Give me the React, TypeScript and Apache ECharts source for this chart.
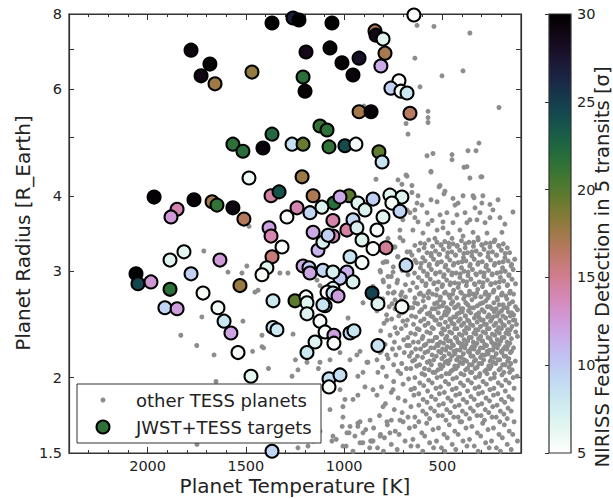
import React, { useEffect, useRef } from "react";
import * as echarts from "echarts";

// Axis ranges and ticks
const TEMP_MIN = 100;
const TEMP_MAX = 2400;
const RADIUS_MIN = 1.5;
const RADIUS_MAX = 8;
const SIGMA_MIN = 5;
const SIGMA_MAX = 30;

const temperatureMajorTicks = [500, 1000, 1500, 2000];
const radiusLabelValues = [1.5, 2, 3, 4, 6, 8];
const radiusTickValues = [1.5, 2, 3, 4, 5, 6, 7, 8];
const sigmaTicks = [5, 10, 15, 20, 25, 30];

// JWST+TESS targets: [planet temperature K, planet radius R_Earth, NIRISS detection sigma]
const jwstTargets: [number, number, number][] = [
  [1367, 7.73, 29.8], [1260, 7.88, 26.8], [1230, 7.82, 30], [1779, 6.97, 29.2], [1683, 6.61, 29.5],
  [1728, 6.32, 29], [1657, 6.13, 17.6], [1469, 6.41, 17.9], [1194, 6.92, 28.5], [1209, 6.29, 21.8],
  [1199, 5.96, 29.6], [1566, 4.87, 21.6], [1515, 4.74, 21.9], [1367, 5.06, 22.3], [1413, 4.8, 29.4],
  [1265, 4.87, 8.6], [1209, 4.87, 19.4], [1484, 4.28, 5.8], [1214, 4.3, 17.7], [1967, 3.98, 29.8],
  [1764, 3.94, 29.6], [1672, 3.91, 17.3], [1647, 3.86, 21.4], [1566, 3.82, 29.2], [1510, 3.66, 16.8],
  [1850, 3.8, 14.2], [1881, 3.69, 12.6], [1372, 4.0, 14.6], [1331, 4.06, 23.8], [1240, 3.82, 14.1],
  [1291, 3.69, 5.4], [1174, 3.75, 9.4], [1382, 3.54, 12.2], [1372, 3.43, 14.0], [645, 7.97, 5.2],
  [1062, 7.73, 29.7], [843, 7.5, 16.9], [838, 7.38, 28.8], [802, 7.27, 6.6], [792, 6.89, 17.2],
  [813, 6.56, 11.6], [1072, 7.03, 29.9], [924, 6.76, 28.0], [1011, 6.64, 29.6], [955, 6.34, 29.3],
  [721, 6.2, 5.3], [762, 6.03, 9.6], [711, 5.96, 5.6], [680, 5.92, 8.2], [924, 5.51, 17.4],
  [863, 5.51, 29.5], [665, 5.48, 16.6], [1123, 5.22, 21.2], [1087, 5.14, 21.6], [1077, 4.82, 21.4],
  [996, 4.84, 24.2], [940, 4.87, 5.6], [823, 4.73, 19.6], [807, 4.55, 8.4], [1158, 4.0, 17.0],
  [975, 4.0, 19.8], [1052, 3.89, 21.8], [853, 3.95, 9.8], [767, 4.01, 6.4], [706, 3.98, 6.8],
  [1113, 3.83, 6.9], [757, 3.89, 5.5], [716, 3.77, 9.3], [1021, 3.98, 11.8], [930, 3.89, 6.7],
  [894, 3.79, 7.0], [802, 3.69, 6.5], [1057, 3.64, 14.3], [986, 3.51, 14.5], [1158, 3.48, 11.9],
  [1057, 3.43, 13.8], [955, 3.65, 9.2], [935, 3.54, 7.2], [833, 3.51, 5.4], [909, 3.38, 6.8],
  [853, 3.27, 5.3], [787, 3.28, 15.0], [970, 3.17, 8.3], [909, 3.1, 5.5], [685, 3.07, 9.0],
  [986, 2.99, 11.4], [955, 2.88, 7.0], [858, 2.76, 24.8], [1021, 2.92, 10.0], [1057, 2.81, 6.9],
  [1316, 3.29, 5.3], [1133, 3.25, 11.2], [1108, 3.35, 7.1], [1082, 3.44, 9.7], [1367, 3.17, 15.8],
  [1393, 3.04, 6.8], [1418, 2.96, 5.4], [1209, 3.06, 11.7], [1179, 3.04, 9.9], [1108, 3.01, 9.3],
  [1057, 2.99, 7.3], [1174, 2.98, 12.0], [1362, 2.68, 8.1], [1250, 2.68, 19.7], [1194, 2.72, 5.6],
  [1087, 2.77, 5.4], [1530, 2.84, 17.8], [1189, 2.66, 6.6], [1189, 2.55, 6.9], [1097, 2.63, 7.2],
  [1057, 2.76, 8.4], [1031, 2.73, 12.4], [1123, 2.48, 5.5], [828, 2.65, 6.7], [706, 2.62, 5.5],
  [1362, 2.42, 8.3], [1342, 2.4, 8.0], [1097, 2.38, 5.3], [1052, 2.35, 12.3], [1052, 2.28, 5.4],
  [1148, 2.29, 6.7], [1189, 2.2, 8.1], [970, 2.37, 9.1], [950, 2.39, 8.4], [828, 2.26, 8.5],
  [1540, 2.2, 5.6], [1474, 2.01, 6.5], [1077, 1.99, 8.6], [1021, 2.02, 8.8], [1077, 1.93, 5.4],
  [1576, 2.37, 12.1], [1886, 3.13, 6.7], [1815, 3.23, 6.5], [1632, 3.13, 12.6], [2059, 2.97, 30],
  [2049, 2.86, 24.5], [1983, 2.88, 12.8], [1779, 2.97, 9.6], [1886, 2.8, 21.7], [1718, 2.76, 5.4],
  [1912, 2.61, 9.5], [1850, 2.6, 12.4], [1642, 2.61, 5.6], [1611, 2.48, 8.2], [1367, 1.51, 9.3],
  [1108, 2.64, 8.3],
];

// Other TESS planets: [planet temperature K, planet radius R_Earth]
const tessLargeRadius: [number, number][] = [
  [629, 7.66], [543, 7.63], [360, 7.44], [640, 6.76], [395, 6.44], [502, 6.32], [614, 6.06],
  [212, 5.6], [573, 5.52], [573, 5.39], [573, 5.29], [685, 5.27], [675, 5.06], [314, 4.89],
  [370, 4.75], [329, 4.75], [578, 4.66], [548, 4.7], [451, 4.68], [451, 4.59], [390, 4.46],
  [375, 4.47], [360, 4.28], [304, 4.3], [558, 4.39], [899, 5.63],
];

const tessUpperBand: [number, number][] = [
  [838, 4.26], [726, 4.25], [685, 4.33], [512, 4.16], [655, 4.16], [487, 4.07], [624, 4.0],
  [558, 3.94], [527, 3.91], [446, 3.96], [420, 3.89], [344, 4.0], [299, 3.89], [258, 3.87],
  [334, 3.82], [640, 3.79], [604, 3.86], [578, 3.75], [477, 3.75], [426, 3.72], [385, 3.75],
  [624, 3.62], [553, 3.64], [497, 3.62], [446, 3.61], [375, 3.61], [324, 3.65], [283, 3.61],
  [273, 3.47], [344, 3.48], [411, 3.51], [471, 3.47], [527, 3.51], [599, 3.47], [650, 3.51],
  [701, 3.65], [716, 3.51], [665, 3.75], [706, 4.18], [655, 4.05], [629, 3.89], [680, 3.79],
  [640, 3.68], [716, 3.41], [777, 3.4], [741, 3.29], [665, 3.23], [726, 3.17], [640, 3.13],
  [782, 3.11], [817, 3.01], [751, 2.99], [802, 2.9], [731, 2.87], [853, 2.83], [777, 2.76],
  [706, 2.77], [817, 2.7], [741, 2.69], [243, 3.79], [207, 3.68], [182, 3.59], [233, 3.38],
  [197, 3.48], [309, 3.75], [360, 3.65], [436, 3.86], [512, 3.72], [573, 3.59], [538, 3.4],
  [497, 3.54], [451, 3.4], [395, 3.43], [319, 3.41], [258, 3.68], [217, 3.94], [141, 3.76],
  [680, 4.31], [558, 4.38], [299, 4.3], [517, 4.14], [492, 4.03], [395, 4.0], [339, 3.97],
  [294, 4.0],
];

const tessMidBand: [number, number][] = [
  [700, 3.37], [612, 3.34], [570, 3.38], [528, 3.35], [488, 3.36], [446, 3.33], [403, 3.37], [365, 3.35], [318, 3.38], [279, 3.34], [236, 3.36], [190, 3.33],
  [745, 3.29], [640, 3.31], [593, 3.28], [550, 3.3], [507, 3.32], [466, 3.29], [425, 3.31], [384, 3.28], [342, 3.3], [300, 3.32], [258, 3.29], [214, 3.31], [170, 3.28],
  [680, 3.23], [620, 3.25], [578, 3.22], [535, 3.24], [495, 3.26], [452, 3.23], [412, 3.25], [372, 3.22], [328, 3.24], [288, 3.26], [245, 3.23], [200, 3.25], [158, 3.22],
  [728, 3.17], [655, 3.19], [600, 3.16], [557, 3.18], [517, 3.2], [476, 3.17], [434, 3.19], [393, 3.16], [350, 3.18], [310, 3.2], [268, 3.17], [226, 3.19], [182, 3.16],
  [790, 3.11], [690, 3.13], [632, 3.1], [588, 3.12], [545, 3.14], [505, 3.11], [462, 3.13], [420, 3.1], [380, 3.12], [338, 3.14], [297, 3.11], [255, 3.13], [212, 3.1], [166, 3.12], [132, 3.14],
  [750, 3.05], [662, 3.07], [612, 3.04], [568, 3.06], [527, 3.08], [486, 3.05], [444, 3.07], [403, 3.04], [361, 3.06], [320, 3.08], [278, 3.05], [236, 3.07], [194, 3.04], [150, 3.06],
  [815, 2.99], [705, 3.01], [642, 2.98], [596, 3.0], [556, 3.02], [512, 2.99], [470, 3.01], [430, 2.98], [390, 3.0], [347, 3.02], [306, 2.99], [265, 3.01], [222, 2.98], [180, 3.0], [140, 3.02],
  [760, 2.94], [675, 2.96], [622, 2.93], [578, 2.95], [535, 2.97], [494, 2.94], [452, 2.96], [411, 2.93], [370, 2.95], [330, 2.97], [289, 2.94], [247, 2.96], [205, 2.93], [162, 2.95],
  [800, 2.88], [728, 2.9], [650, 2.87], [604, 2.89], [562, 2.91], [520, 2.88], [478, 2.9], [437, 2.87], [395, 2.89], [355, 2.91], [312, 2.88], [271, 2.9], [230, 2.87], [188, 2.89], [146, 2.91],
  [772, 2.83], [688, 2.85], [630, 2.82], [585, 2.84], [544, 2.86], [502, 2.83], [461, 2.85], [420, 2.82], [378, 2.84], [337, 2.86], [296, 2.83], [254, 2.85], [213, 2.82], [170, 2.84], [128, 2.86],
  [745, 2.77], [665, 2.79], [612, 2.76], [568, 2.78], [527, 2.8], [485, 2.77], [443, 2.79], [403, 2.76], [362, 2.78], [320, 2.8], [280, 2.77], [238, 2.79], [196, 2.76], [155, 2.78],
  [835, 2.72], [712, 2.74], [640, 2.71], [595, 2.73], [550, 2.75], [510, 2.72], [468, 2.74], [427, 2.71], [386, 2.73], [344, 2.75], [304, 2.72], [262, 2.74], [221, 2.71], [178, 2.73], [138, 2.75],
];

const tessMidFill: [number, number][] = [
  [590, 3.33], [507, 3.31], [468, 3.34], [425, 3.3], [383, 3.33], [341, 3.35], [298, 3.31], [256, 3.34], [212, 3.3],
  [557, 3.21], [514, 3.2], [473, 3.22], [432, 3.19], [391, 3.21], [349, 3.23], [307, 3.2], [266, 3.22], [223, 3.19], [180, 3.21],
  [608, 3.09], [566, 3.08], [524, 3.1], [483, 3.07], [441, 3.09], [400, 3.11], [358, 3.08], [317, 3.1], [276, 3.07], [233, 3.09], [191, 3.11], [148, 3.08],
  [576, 2.97], [534, 2.98], [491, 2.96], [450, 2.98], [409, 2.97], [369, 2.99], [327, 2.96], [287, 2.98], [246, 2.97], [203, 2.99], [161, 2.96],
  [583, 2.86], [541, 2.87], [499, 2.85], [458, 2.87], [417, 2.86], [376, 2.88], [334, 2.85], [293, 2.87], [252, 2.86], [210, 2.88], [168, 2.85],
  [618, 2.75], [574, 2.76], [531, 2.74], [490, 2.76], [448, 2.75], [407, 2.77], [365, 2.74], [325, 2.76], [283, 2.75], [241, 2.77], [200, 2.74], [158, 2.76],
];

const tessCore: [number, number][] = [
  [803, 2.7], [756, 2.65], [709, 2.69], [688, 2.72], [641, 2.66], [598, 2.68], [571, 2.71], [540, 2.65], [512, 2.69], [493, 2.66], [461, 2.71], [447, 2.67], [419, 2.64], [392, 2.7], [381, 2.66], [350, 2.69], [333, 2.72], [307, 2.65], [279, 2.68], [268, 2.71], [238, 2.66], [219, 2.69], [191, 2.64], [172, 2.7], [143, 2.67],
  [771, 2.62], [728, 2.64], [667, 2.61], [626, 2.65], [589, 2.62], [552, 2.6], [527, 2.66], [500, 2.63], [478, 2.61], [455, 2.65], [430, 2.62], [405, 2.6], [371, 2.64], [359, 2.61], [322, 2.63], [294, 2.66], [258, 2.62], [247, 2.6], [211, 2.64], [187, 2.61], [159, 2.65], [128, 2.62],
  [833, 2.58], [741, 2.6], [695, 2.57], [651, 2.61], [606, 2.59], [565, 2.56], [536, 2.6], [517, 2.62], [486, 2.57], [467, 2.59], [438, 2.61], [414, 2.56], [396, 2.6], [367, 2.58], [341, 2.61], [315, 2.56], [298, 2.59], [271, 2.62], [236, 2.57], [226, 2.6], [199, 2.58], [170, 2.61], [147, 2.56], [118, 2.59],
  [784, 2.54], [704, 2.56], [657, 2.53], [616, 2.57], [577, 2.55], [548, 2.52], [521, 2.56], [491, 2.54], [471, 2.57], [443, 2.52], [425, 2.55], [399, 2.57], [382, 2.53], [356, 2.56], [329, 2.54], [312, 2.51], [287, 2.57], [263, 2.54], [241, 2.52], [213, 2.56], [192, 2.53], [165, 2.57], [137, 2.54],
  [758, 2.5], [722, 2.53], [678, 2.49], [636, 2.52], [593, 2.5], [559, 2.53], [531, 2.49], [506, 2.51], [480, 2.54], [458, 2.49], [433, 2.52], [409, 2.5], [384, 2.53], [365, 2.48], [337, 2.51], [318, 2.54], [292, 2.49], [270, 2.52], [249, 2.5], [222, 2.53], [204, 2.48], [178, 2.51], [154, 2.53], [131, 2.49],
  [797, 2.46], [701, 2.48], [647, 2.45], [611, 2.48], [572, 2.46], [538, 2.49], [512, 2.45], [485, 2.47], [462, 2.5], [440, 2.45], [418, 2.48], [391, 2.46], [372, 2.49], [345, 2.44], [323, 2.47], [301, 2.49], [276, 2.45], [255, 2.48], [228, 2.46], [207, 2.49], [184, 2.44], [161, 2.47], [139, 2.49],
  [741, 2.42], [686, 2.44], [628, 2.41], [589, 2.44], [553, 2.42], [519, 2.45], [498, 2.41], [471, 2.43], [451, 2.46], [426, 2.41], [403, 2.44], [377, 2.42], [357, 2.45], [331, 2.4], [306, 2.43], [287, 2.45], [262, 2.41], [237, 2.44], [214, 2.42], [193, 2.45], [168, 2.4], [146, 2.43], [123, 2.45],
  [814, 2.39], [709, 2.41], [661, 2.37], [618, 2.4], [579, 2.38], [546, 2.41], [507, 2.37], [489, 2.4], [463, 2.38], [437, 2.41], [414, 2.36], [388, 2.39], [366, 2.41], [340, 2.37], [318, 2.4], [293, 2.38], [271, 2.41], [246, 2.36], [224, 2.39], [200, 2.41], [177, 2.37], [155, 2.4], [127, 2.38],
  [766, 2.35], [729, 2.37], [676, 2.33], [638, 2.36], [599, 2.34], [562, 2.37], [529, 2.33], [502, 2.36], [477, 2.34], [452, 2.37], [427, 2.32], [401, 2.35], [380, 2.37], [353, 2.33], [329, 2.36], [305, 2.34], [280, 2.37], [257, 2.32], [233, 2.35], [210, 2.37], [186, 2.33], [162, 2.36], [118, 2.34],
  [697, 2.31], [648, 2.29], [603, 2.32], [568, 2.3], [536, 2.33], [511, 2.29], [484, 2.32], [459, 2.3], [434, 2.33], [412, 2.28], [390, 2.31], [364, 2.33], [343, 2.29], [316, 2.32], [295, 2.3], [268, 2.33], [244, 2.28], [221, 2.31], [196, 2.33], [171, 2.29], [149, 2.32],
  [791, 2.27], [744, 2.29], [668, 2.26], [622, 2.29], [584, 2.27], [551, 2.3], [521, 2.26], [494, 2.28], [470, 2.3], [444, 2.26], [421, 2.29], [396, 2.27], [371, 2.3], [348, 2.25], [324, 2.28], [299, 2.3], [275, 2.26], [250, 2.29], [228, 2.27], [203, 2.3], [180, 2.25], [157, 2.28],
  [719, 2.24], [681, 2.26], [636, 2.23], [593, 2.26], [559, 2.24], [527, 2.27], [499, 2.23], [476, 2.25], [449, 2.27], [427, 2.22], [403, 2.25], [380, 2.27], [356, 2.23], [333, 2.26], [307, 2.24], [285, 2.27], [261, 2.22], [238, 2.25], [211, 2.27], [189, 2.23], [166, 2.26], [138, 2.24],
  [811, 2.21], [754, 2.23], [657, 2.2], [611, 2.23], [574, 2.21], [541, 2.24], [508, 2.2], [483, 2.22], [458, 2.24], [436, 2.19], [410, 2.22], [386, 2.24], [362, 2.2], [339, 2.23], [316, 2.21], [292, 2.24], [267, 2.19], [243, 2.22], [220, 2.24], [197, 2.2], [172, 2.23], [148, 2.21],
  [737, 2.18], [694, 2.2], [627, 2.17], [589, 2.2], [552, 2.18], [519, 2.21], [491, 2.17], [466, 2.19], [441, 2.21], [418, 2.16], [393, 2.19], [369, 2.21], [344, 2.17], [321, 2.2], [298, 2.18], [272, 2.21], [249, 2.16], [226, 2.19], [201, 2.21], [178, 2.17], [154, 2.2],
  [776, 2.15], [668, 2.17], [641, 2.14], [601, 2.16], [566, 2.13], [531, 2.17], [503, 2.15], [477, 2.13], [452, 2.17], [428, 2.14], [404, 2.16], [377, 2.13], [355, 2.17], [331, 2.14], [306, 2.16], [283, 2.18], [257, 2.13], [236, 2.16], [208, 2.14], [186, 2.17], [162, 2.15], [129, 2.13],
  [707, 2.11], [652, 2.13], [616, 2.1], [577, 2.12], [544, 2.14], [512, 2.1], [486, 2.12], [461, 2.14], [437, 2.09], [411, 2.12], [388, 2.14], [362, 2.1], [338, 2.13], [314, 2.11], [290, 2.14], [264, 2.09], [242, 2.12], [217, 2.14], [193, 2.1], [168, 2.13], [152, 2.11],
  [804, 2.08], [748, 2.1], [683, 2.07], [631, 2.09], [591, 2.07], [556, 2.1], [523, 2.06], [497, 2.09], [470, 2.11], [447, 2.06], [421, 2.09], [397, 2.11], [372, 2.07], [349, 2.1], [323, 2.08], [300, 2.11], [276, 2.06], [252, 2.09], [228, 2.11], [205, 2.07], [181, 2.1], [161, 2.08],
  [726, 2.05], [661, 2.07], [604, 2.03], [568, 2.06], [537, 2.04], [507, 2.07], [481, 2.03], [456, 2.05], [431, 2.07], [406, 2.03], [382, 2.06], [357, 2.04], [333, 2.07], [309, 2.03], [284, 2.05], [259, 2.07], [235, 2.03], [212, 2.06], [187, 2.04], [145, 2.06],
];

const tessLowBand: [number, number][] = [
  [785, 2.01], [712, 2.03], [640, 2.0], [590, 2.02], [548, 2.04], [505, 2.01], [465, 2.03], [428, 2.0], [390, 2.02], [350, 2.04], [312, 2.01], [273, 2.03], [236, 2.0], [197, 2.02], [158, 2.04], [120, 2.01],
  [748, 1.97], [672, 1.99], [615, 1.96], [570, 1.98], [527, 2.0], [485, 1.97], [447, 1.99], [408, 1.96], [370, 1.98], [332, 2.0], [293, 1.97], [255, 1.99], [216, 1.96], [178, 1.98], [140, 2.0],
  [810, 1.93], [700, 1.95], [642, 1.92], [595, 1.94], [552, 1.96], [510, 1.93], [468, 1.95], [430, 1.92], [392, 1.94], [352, 1.96], [314, 1.93], [276, 1.95], [238, 1.92], [198, 1.94], [160, 1.96],
  [760, 1.89], [660, 1.91], [620, 1.88], [575, 1.9], [533, 1.92], [490, 1.89], [450, 1.91], [412, 1.88], [372, 1.9], [334, 1.92], [296, 1.89], [258, 1.91], [218, 1.88], [180, 1.9], [135, 1.92],
  [725, 1.85], [645, 1.87], [598, 1.84], [556, 1.86], [515, 1.88], [472, 1.85], [432, 1.87], [394, 1.84], [355, 1.86], [316, 1.88], [278, 1.85], [240, 1.87], [200, 1.84], [162, 1.86],
  [790, 1.81], [690, 1.83], [620, 1.8], [578, 1.82], [535, 1.84], [495, 1.81], [455, 1.83], [415, 1.8], [376, 1.82], [338, 1.84], [300, 1.81], [260, 1.83], [222, 1.8], [183, 1.82], [145, 1.84],
  [745, 1.77], [660, 1.79], [600, 1.76], [560, 1.78], [518, 1.8], [478, 1.77], [437, 1.79], [398, 1.76], [358, 1.78], [320, 1.8], [282, 1.77], [244, 1.79], [205, 1.76], [166, 1.78],
  [820, 1.73], [705, 1.75], [640, 1.72], [582, 1.74], [540, 1.76], [500, 1.73], [460, 1.75], [420, 1.72], [380, 1.74], [342, 1.76], [303, 1.73], [264, 1.75], [226, 1.72], [187, 1.74], [150, 1.76],
  [760, 1.7], [675, 1.72], [620, 1.69], [565, 1.71], [522, 1.73], [482, 1.7], [442, 1.72], [402, 1.69], [362, 1.71], [324, 1.73], [286, 1.7], [247, 1.72], [208, 1.69], [170, 1.71],
];

const tessBottomBand: [number, number][] = [
  [1010, 1.66], [930, 1.68], [850, 1.65], [780, 1.67], [700, 1.69], [640, 1.66], [580, 1.68], [520, 1.65], [465, 1.67], [410, 1.69], [350, 1.66], [295, 1.68], [240, 1.65], [185, 1.67], [135, 1.69],
  [975, 1.62], [890, 1.64], [815, 1.61], [740, 1.63], [668, 1.65], [605, 1.62], [548, 1.64], [492, 1.61], [437, 1.63], [380, 1.65], [322, 1.62], [268, 1.64], [212, 1.61], [160, 1.63],
  [1040, 1.58], [945, 1.6], [865, 1.57], [795, 1.59], [720, 1.61], [650, 1.58], [590, 1.6], [530, 1.57], [475, 1.59], [420, 1.61], [362, 1.58], [305, 1.6], [250, 1.57], [195, 1.59], [142, 1.61],
  [990, 1.54], [905, 1.56], [830, 1.53], [760, 1.55], [690, 1.57], [625, 1.54], [565, 1.56], [505, 1.53], [450, 1.55], [395, 1.57], [338, 1.54], [280, 1.56], [225, 1.53], [170, 1.55], [118, 1.57],
  [955, 1.51], [870, 1.53], [800, 1.51], [730, 1.52], [660, 1.54], [600, 1.51], [545, 1.53], [488, 1.51], [432, 1.52], [375, 1.54], [318, 1.51], [262, 1.53], [205, 1.51], [150, 1.52],
];

const tessHotScatter: [number, number][] = [
  [1714, 3.24], [1495, 3.06], [1520, 2.98], [1591, 2.99], [1327, 2.98], [1286, 2.98], [1454, 2.77],
  [1438, 2.79], [1724, 2.52], [1515, 2.48], [1831, 2.35], [1418, 2.35], [1750, 2.26], [1418, 2.25],
  [1662, 2.18], [1466, 2.21], [1410, 2.24], [1385, 2.07], [1652, 1.97], [1260, 2.36], [1235, 2.06],
  [1265, 2.01], [1749, 1.55], [1235, 1.53], [1184, 1.54], [1484, 3.56], [1138, 2.9], [1123, 2.84],
  [1248, 2.14], [1131, 2.07], [1184, 1.92], [1326, 1.84], [1158, 1.7], [1123, 1.63], [1276, 1.6],
  [1403, 1.67], [802, 3.1], [777, 2.94], [751, 2.76], [782, 2.49], [731, 2.37], [817, 2.2],
  [879, 2.12], [919, 2.21], [970, 2.14], [1021, 2.2], [1072, 2.14], [1123, 2.12], [1189, 2.12],
  [930, 2.01], [894, 1.93], [833, 1.87], [955, 1.84], [1006, 1.79], [802, 1.79], [751, 1.91],
  [868, 1.7], [930, 1.66], [986, 1.62], [1057, 1.6], [1158, 1.57], [767, 1.62], [716, 1.7],
  [980, 2.51], [904, 2.66], [935, 2.18], [904, 2.04], [884, 2.12], [853, 1.91], [930, 1.87],
  [996, 1.84], [1021, 1.91], [1072, 1.77], [1006, 1.72], [970, 1.66], [919, 1.69], [904, 1.62],
  [853, 1.57], [817, 1.6], [782, 1.69], [828, 2.04], [833, 2.14], [782, 2.18], [1062, 1.57],
  [1006, 1.54], [919, 1.56], [858, 1.57],
];

const FONT = '"DejaVu Sans", "Liberation Sans", sans-serif';
const INK = "#222222";
const FRAME = "#333333";

// matplotlib-style cubehelix (gamma 1, s 0.5, r -1.5, h 1); f = 0 is black, f = 1 is white
function cubehelix(f: number): string {
  const a = (f * (1 - f)) / 2;
  const phi = 2 * Math.PI * (0.5 / 3 - 1.5 * f);
  const c = Math.cos(phi);
  const s = Math.sin(phi);
  const r = f + a * (-0.14861 * c + 1.78277 * s);
  const g = f + a * (-0.29227 * c - 0.90649 * s);
  const b = f + a * (1.97294 * c);
  const to = (v: number) =>
    Math.round(Math.min(1, Math.max(0, v)) * 255)
      .toString(16)
      .padStart(2, "0");
  return "#" + to(r) + to(g) + to(b);
}

// reversed colormap: low sigma is pale, high sigma is dark
const sigmaColor = (sigma: number) => cubehelix(1 - (sigma - SIGMA_MIN) / (SIGMA_MAX - SIGMA_MIN));

const log10 = (v: number) => Math.log10(v);

const formatRadius = (v: number) => String(Math.round(Math.pow(10, v) * 10) / 10);

export default function App() {
  const ref = useRef<HTMLDivElement>(null);

  useEffect(() => {
    if (!ref.current) return;
    const chart = echarts.init(ref.current, undefined, { renderer: "svg", width: 613, height: 499 });

    const otherPlanets = [
      ...tessLargeRadius,
      ...tessUpperBand,
      ...tessMidBand,
      ...tessMidFill,
      ...tessCore,
      ...tessLowBand,
      ...tessBottomBand,
      ...tessHotScatter,
    ].map(([t, r]) => [t, log10(r)]);

    const targets = jwstTargets.map(([t, r, s]) => [t, log10(r), s]);

    const mapColors: string[] = [];
    for (let s = SIGMA_MIN; s <= SIGMA_MAX + 1e-9; s += 0.5) mapColors.push(sigmaColor(s));

    const barStops: { offset: number; color: string }[] = [];
    for (let i = 0; i <= 50; i++) barStops.push({ offset: i / 50, color: cubehelix(i / 50) });

    const tempAxisBase = {
      type: "value" as const,
      gridIndex: 0,
      min: TEMP_MIN,
      max: TEMP_MAX,
      inverse: true,
      splitLine: { show: false },
    };

    const minorTempAxis = (position: "bottom" | "top", labels: boolean) => ({
      ...tempAxisBase,
      position,
      interval: 100,
      axisLine: { show: true, lineStyle: { color: FRAME, width: 1.2 } },
      axisTick: { show: true, inside: true, length: 3, lineStyle: { color: FRAME, width: 1 } },
      axisLabel: {
        show: labels,
        hideOverlap: false,
        interval: 0,
        margin: 5,
        fontSize: 14.5,
        fontFamily: FONT,
        color: INK,
        formatter: (v: number) => (v % 500 === 0 ? String(v) : ""),
      },
    });

    const majorTempAxis = (position: "bottom" | "top") => ({
      ...tempAxisBase,
      position,
      axisLine: { show: false },
      axisTick: {
        show: true,
        inside: true,
        length: 6,
        customValues: temperatureMajorTicks,
        lineStyle: { color: FRAME, width: 1 },
      },
      axisLabel: { show: false },
    });

    const radiusAxis = (position: "left" | "right", labels: boolean) => ({
      type: "value" as const,
      gridIndex: 0,
      position,
      min: log10(RADIUS_MIN),
      max: log10(RADIUS_MAX),
      splitLine: { show: false },
      axisLine: { show: true, lineStyle: { color: FRAME, width: 1.2 } },
      axisTick: {
        show: true,
        inside: true,
        length: 5,
        customValues: radiusTickValues.map(log10),
        lineStyle: { color: FRAME, width: 1 },
      },
      axisLabel: {
        show: labels,
        customValues: radiusLabelValues.map(log10),
        hideOverlap: false,
        margin: 7,
        fontSize: 14.5,
        fontFamily: FONT,
        color: INK,
        formatter: (v: number) => formatRadius(v),
      },
    });

    const greenLegend = sigmaColor(21.5);

    chart.setOption({
      animation: false,
      backgroundColor: "#ffffff",
      grid: [
        {
          left: 69,
          top: 14,
          width: 452,
          height: 439,
          show: true,
          borderColor: FRAME,
          borderWidth: 1.2,
          backgroundColor: "transparent",
          containLabel: false,
          outerBoundsMode: "none",
        },
        { left: 549, top: 14, width: 22, height: 439, show: false, containLabel: false, outerBoundsMode: "none" },
      ],
      xAxis: [
        minorTempAxis("bottom", true),
        majorTempAxis("bottom"),
        minorTempAxis("top", false),
        majorTempAxis("top"),
        { type: "value", gridIndex: 1, min: 0, max: 1, show: false },
      ],
      yAxis: [
        radiusAxis("left", true),
        radiusAxis("right", false),
        {
          type: "value",
          gridIndex: 1,
          position: "right",
          min: SIGMA_MIN,
          max: SIGMA_MAX,
          interval: 5,
          z: 10,
          splitLine: { show: false },
          axisLine: { show: false },
          axisTick: { show: true, inside: true, length: 4, lineStyle: { color: FRAME, width: 1 } },
          axisLabel: {
            show: true,
            margin: 6,
            fontSize: 14.5,
            fontFamily: FONT,
            color: INK,
            customValues: sigmaTicks,
            formatter: (v: number) => String(v),
          },
        },
      ],
      visualMap: [
        {
          type: "continuous",
          show: false,
          min: SIGMA_MIN,
          max: SIGMA_MAX,
          dimension: 2,
          seriesIndex: 1,
          inRange: { color: mapColors },
        },
      ],
      series: [
        {
          name: "other TESS planets",
          type: "scatter",
          xAxisIndex: 0,
          yAxisIndex: 0,
          data: otherPlanets,
          symbol: "circle",
          symbolSize: 5,
          itemStyle: { color: "#8c8c8c", opacity: 1 },
          silent: true,
          z: 2,
        },
        {
          name: "JWST+TESS targets",
          type: "scatter",
          xAxisIndex: 0,
          yAxisIndex: 0,
          data: targets,
          symbol: "circle",
          symbolSize: 13,
          itemStyle: { borderColor: "#000000", borderWidth: 2, opacity: 1 },
          silent: true,
          z: 3,
        },
      ],
      graphic: [
        // colour bar
        {
          type: "rect",
          z: 1,
          shape: { x: 549, y: 14, width: 22, height: 439 },
          style: {
            fill: new echarts.graphic.LinearGradient(0, 0, 0, 1, barStops),
            stroke: FRAME,
            lineWidth: 1.2,
          },
        },
        // legend box
        {
          type: "rect",
          z: 100,
          shape: { x: 77, y: 384, width: 244, height: 59 },
          style: { fill: "#ffffff", stroke: FRAME, lineWidth: 1 },
        },
        {
          type: "circle",
          z: 101,
          shape: { cx: 103, cy: 400, r: 2.5 },
          style: { fill: "#8c8c8c" },
        },
        {
          type: "circle",
          z: 101,
          shape: { cx: 103, cy: 427, r: 6.5 },
          style: { fill: greenLegend, stroke: "#000000", lineWidth: 2 },
        },
        {
          type: "text",
          z: 101,
          x: 136,
          y: 400,
          style: { text: "other TESS planets", font: `18px ${FONT}`, fill: INK, align: "left", verticalAlign: "middle" },
        },
        {
          type: "text",
          z: 101,
          x: 136,
          y: 427,
          style: { text: "JWST+TESS targets", font: `18px ${FONT}`, fill: INK, align: "left", verticalAlign: "middle" },
        },
        // axis titles
        {
          type: "text",
          x: 295,
          y: 486,
          style: { text: "Planet Temperature [K]", font: `20px ${FONT}`, fill: INK, align: "center", verticalAlign: "middle" },
        },
        {
          type: "text",
          x: 23,
          y: 233,
          rotation: Math.PI / 2,
          style: { text: "Planet Radius [R_Earth]", font: `20px ${FONT}`, fill: INK, align: "center", verticalAlign: "middle" },
        },
        {
          type: "text",
          x: 602,
          y: 267,
          rotation: Math.PI / 2,
          style: {
            text: "NIRISS Feature Detection in 5 transits [σ]",
            font: `19.5px ${FONT}`,
            fill: INK,
            align: "center",
            verticalAlign: "middle",
          },
        },
      ],
    });

    return () => chart.dispose();
  }, []);

  return <div ref={ref} style={{ position: "fixed", left: 0, top: 0, width: 613, height: 499 }} />;
}
